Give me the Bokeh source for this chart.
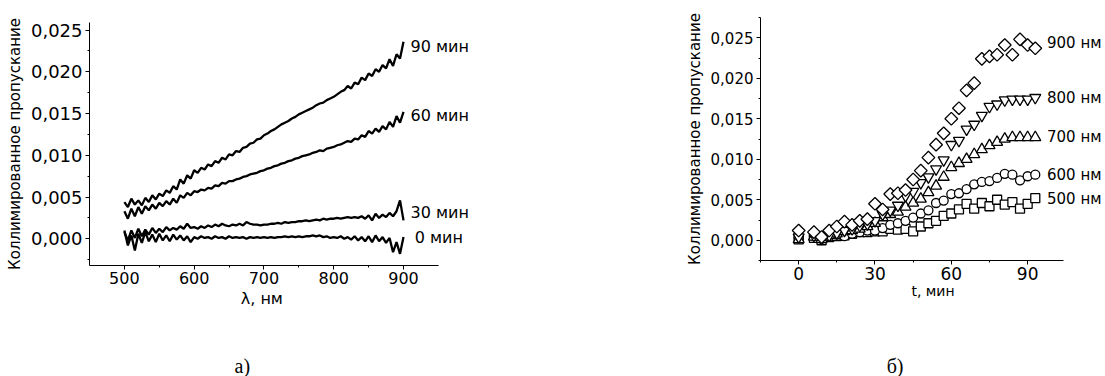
from bokeh.plotting import figure
from bokeh.layouts import row, column
from bokeh.models import FixedTicker, Range1d
from bokeh.core.properties import value
from bokeh.embed import file_html
from bokeh.resources import INLINE
import math

# ---------------- panel (a): spectra ----------------
wavelength = list(range(500, 905, 5))

spec_90 = [0.0044, 0.0038, 0.0048, 0.0041, 0.0046, 0.0040, 0.0049, 0.0044, 0.0052, 0.0047,
           0.0054, 0.0051, 0.0058, 0.0055, 0.0063, 0.0059, 0.0071, 0.0066, 0.0076, 0.0072,
           0.0082, 0.0079, 0.0085, 0.0083, 0.0089, 0.0087, 0.0093, 0.0091, 0.0097, 0.0095,
           0.0101, 0.0100, 0.0105, 0.0104, 0.0109, 0.0110, 0.0114, 0.0115, 0.0119, 0.0120,
           0.0124, 0.0126, 0.0129, 0.0131, 0.0134, 0.0137, 0.0139, 0.0141, 0.0144, 0.0146,
           0.0149, 0.0151, 0.0153, 0.0155, 0.0157, 0.0160, 0.0162, 0.0163, 0.0166, 0.0168,
           0.0170, 0.0173, 0.0176, 0.0178, 0.0183, 0.0180, 0.0187, 0.0185, 0.0193, 0.0190,
           0.0198, 0.0195, 0.0203, 0.0200, 0.0208, 0.0204, 0.0215, 0.0207, 0.0221, 0.0216,
           0.0236]

spec_60 = [0.0033, 0.0024, 0.0036, 0.0027, 0.0038, 0.0030, 0.0039, 0.0034, 0.0041, 0.0036,
           0.0043, 0.0039, 0.0045, 0.0041, 0.0048, 0.0043, 0.0052, 0.0049, 0.0055, 0.0052,
           0.0057, 0.0056, 0.0059, 0.0058, 0.0061, 0.0060, 0.0064, 0.0063, 0.0067, 0.0066,
           0.0069, 0.0069, 0.0071, 0.0072, 0.0074, 0.0075, 0.0077, 0.0078, 0.0079, 0.0081,
           0.0082, 0.0084, 0.0085, 0.0087, 0.0088, 0.0090, 0.0091, 0.0093, 0.0094, 0.0096,
           0.0097, 0.0099, 0.0100, 0.0101, 0.0103, 0.0104, 0.0106, 0.0105, 0.0108, 0.0109,
           0.0110, 0.0112, 0.0113, 0.0115, 0.0117, 0.0116, 0.0120, 0.0119, 0.0124, 0.0122,
           0.0129, 0.0126, 0.0132, 0.0128, 0.0135, 0.0131, 0.0140, 0.0134, 0.0147, 0.0139,
           0.0152]

spec_30 = [0.0008, -0.0002, 0.0010, 0.0001, 0.0012, 0.0003, 0.0011, 0.0005, 0.0013, 0.0007,
           0.0012, 0.0008, 0.0014, 0.0010, 0.0013, 0.0011, 0.0015, 0.0012, 0.0018, 0.0013,
           0.0014, 0.0012, 0.0015, 0.0013, 0.0016, 0.0014, 0.0017, 0.0015, 0.0018, 0.0016,
           0.0015, 0.0017, 0.0016, 0.0018, 0.0016, 0.0020, 0.0018, 0.0017, 0.0017, 0.0016,
           0.0017, 0.0017, 0.0018, 0.0018, 0.0019, 0.0018, 0.0020, 0.0019, 0.0020, 0.0020,
           0.0021, 0.0021, 0.0022, 0.0021, 0.0022, 0.0023, 0.0022, 0.0024, 0.0023, 0.0024,
           0.0024, 0.0025, 0.0024, 0.0025, 0.0026, 0.0025, 0.0026, 0.0025, 0.0027, 0.0024,
           0.0028, 0.0022, 0.0030, 0.0025, 0.0029, 0.0026, 0.0031, 0.0027, 0.0033, 0.0046,
           0.0022]

spec_0 = [0.0010, -0.0008, 0.0004, -0.0014, 0.0006, -0.0005, 0.0008, -0.0003, 0.0005, -0.0004,
          0.0006, -0.0002, 0.0004, -0.0003, 0.0005, -0.0001, 0.0004, -0.0002, 0.0003, -0.0004,
          0.0002, 0.0000, 0.0003, 0.0001, 0.0002, 0.0000, 0.0003, 0.0001, 0.0002, 0.0000,
          0.0003, 0.0001, 0.0002, 0.0001, 0.0002, 0.0000, 0.0002, 0.0001, 0.0002, 0.0001,
          0.0002, 0.0001, 0.0002, 0.0001, 0.0002, 0.0002, 0.0003, 0.0002, 0.0003, 0.0002,
          0.0003, 0.0002, 0.0003, 0.0003, 0.0004, 0.0003, 0.0004, 0.0002, 0.0003, 0.0001,
          0.0002, 0.0001, 0.0003, 0.0000, 0.0002, -0.0001, 0.0003, -0.0002, 0.0002, -0.0003,
          0.0003, -0.0004, 0.0004, -0.0003, 0.0002, -0.0005, 0.0001, -0.0016, -0.0004, -0.0018,
          0.0002]

spec_series = [spec_90, spec_60, spec_30, spec_0]
spec_names = ["90 мин", "60 мин", "30 мин", "0 мин"]
spec_label_x = [910, 910, 910, 916]
spec_label_y = [0.0230, 0.0148, 0.0032, 0.0002]

lam_ticks = [500, 600, 700, 800, 900]
lam_minor = [550, 650, 750, 850]
ya_ticks = [0.0, 0.005, 0.01, 0.015, 0.02, 0.025]
ya_tick_labels = ["0,000", "0,005", "0,010", "0,015", "0,020", "0,025"]
ya_minor = [-0.0025, 0.0025, 0.0075, 0.0125, 0.0175, 0.0225]
xa_title = "λ, нм"
xa_title_x = 697          # centre of the axis title, in nm
caption_a_x = 669         # "а)" caption, in nm units of panel (a)

# ---------------- panel (b): kinetics ----------------
time_min = [0, 6, 9, 12, 15, 18, 21, 24, 27, 30, 33, 36, 39, 42, 45, 48,
            51, 54, 57, 60, 63, 66, 69, 72, 75, 78, 81, 84, 87, 90, 93]

t_900 = [0.0012, 0.0010, 0.0004, 0.0012, 0.0017, 0.0023, 0.0019, 0.0024, 0.0026, 0.0045, 0.0038,
         0.0057, 0.0058, 0.0062, 0.0075, 0.0086, 0.0102, 0.0118, 0.0132, 0.0150, 0.0163, 0.0185,
         0.0194, 0.0224, 0.0227, 0.0229, 0.0241, 0.0229, 0.0248, 0.0241, 0.0237]
t_800 = [0.0004, 0.0006, 0.0002, 0.0006, 0.0009, 0.0012, 0.0014, 0.0018, 0.0020, 0.0024, 0.0032,
         0.0037, 0.0043, 0.0055, 0.0060, 0.0071, 0.0078, 0.0088, 0.0099, 0.0118, 0.0123, 0.0137,
         0.0143, 0.0154, 0.0165, 0.0168, 0.0173, 0.0174, 0.0174, 0.0174, 0.0176]
t_700 = [0.0001, 0.0004, 0.0001, 0.0006, 0.0008, 0.0011, 0.0012, 0.0014, 0.0017, 0.0021, 0.0028,
         0.0032, 0.0035, 0.0041, 0.0046, 0.0051, 0.0059, 0.0067, 0.0078, 0.0090, 0.0095, 0.0100,
         0.0106, 0.0112, 0.0117, 0.0121, 0.0125, 0.0127, 0.0127, 0.0127, 0.0127]
t_600 = [0.0003, 0.0005, 0.0002, 0.0005, 0.0007, 0.0005, 0.0008, 0.0010, 0.0012, 0.0012, 0.0015,
         0.0019, 0.0021, 0.0024, 0.0028, 0.0033, 0.0037, 0.0046, 0.0049, 0.0057, 0.0058, 0.0063,
         0.0069, 0.0072, 0.0073, 0.0077, 0.0082, 0.0081, 0.0074, 0.0079, 0.0081]
t_500 = [0.0001, 0.0003, 0.0000, 0.0004, 0.0005, 0.0006, 0.0008, 0.0010, 0.0010, 0.0011, 0.0011,
         0.0014, 0.0013, 0.0014, 0.0011, 0.0017, 0.0021, 0.0024, 0.0030, 0.0033, 0.0038, 0.0045,
         0.0039, 0.0046, 0.0042, 0.0050, 0.0044, 0.0047, 0.0039, 0.0045, 0.0052]

kin_series = [t_500, t_600, t_700, t_800, t_900]
kin_names = ["500 нм", "600 нм", "700 нм", "800 нм", "900 нм"]
kin_markers = ["square", "circle", "triangle", "inverted_triangle", "square"]
kin_sizes = [9, 9, 11, 11, 9]
kin_angles = [0.0, 0.0, 0.0, 0.0, math.pi / 4]
kin_label_x = [97.6, 97.6, 97.6, 97.6, 97.6]
kin_label_y = [0.0051, 0.0081, 0.0127, 0.0176, 0.0243]

t_ticks = [0, 30, 60, 90]
t_minor = [-15, 15, 45, 75]
yb_ticks = [0.0, 0.005, 0.01, 0.015, 0.02, 0.025]
yb_tick_labels = ["0,000", "0,005", "0,010", "0,015", "0,020", "0,025"]
yb_minor = [-0.0025, 0.0025, 0.0075, 0.0125, 0.0175, 0.0225, 0.0275]
xb_title = "t, мин"
caption_b_x = 37.9        # "б)" caption, in minutes units of panel (b)

captions = ["а)", "б)"]

FONT = "DejaVu Sans"
SERIF = "Liberation Serif"


def style(p, xfs, yfs, ylfs):
    p.xgrid.grid_line_color = None
    p.ygrid.grid_line_color = None
    p.outline_line_color = None
    for ax in (p.xaxis[0], p.yaxis[0]):
        ax.axis_line_color = "black"
        ax.axis_line_width = 1
        ax.major_tick_line_color = "black"
        ax.minor_tick_line_color = "black"
        ax.major_tick_in = 0
        ax.major_tick_out = 4
        ax.minor_tick_in = 0
        ax.minor_tick_out = 2
        ax.major_label_text_color = "black"
        ax.major_label_text_font = FONT
        ax.axis_label_text_font = FONT
        ax.axis_label_text_font_style = "normal"
        ax.axis_label_text_color = "black"
    p.xaxis.major_label_text_font_size = xfs
    p.yaxis.major_label_text_font_size = yfs
    p.yaxis.axis_label_text_font_size = ylfs
    p.xaxis.major_label_standoff = 2
    p.yaxis.major_label_standoff = 3
    p.xaxis.axis_label_standoff = 0
    p.yaxis.axis_label_standoff = 4


def strip(width, height, x_range, left, right):
    c = figure(width=width, height=height, x_range=x_range, y_range=Range1d(0, height),
               x_axis_type=None, y_axis_type=None,
               output_backend="svg", toolbar_location=None,
               min_border_left=left, min_border_right=right, min_border_top=0, min_border_bottom=0)
    c.xgrid.grid_line_color = None
    c.ygrid.grid_line_color = None
    c.outline_line_color = None
    return c


H = 376
L_TOP = 289
R_TOP = 330

# ---- left figure (frame extended to the right so the curve labels fit)
p1 = figure(width=552, height=L_TOP, x_range=Range1d(450, 1039), y_range=Range1d(-0.0032, 0.0259),
            output_backend="svg", toolbar_location=None,
            min_border_left=89, min_border_right=52, min_border_top=22, min_border_bottom=L_TOP - 265,
            y_axis_label="Коллимированное пропускание")
style(p1, "16px", "18px", "15px")
p1.xaxis.ticker = FixedTicker(ticks=lam_ticks, minor_ticks=lam_minor)
p1.xaxis.bounds = (450, 950)
p1.yaxis.ticker = FixedTicker(ticks=ya_ticks, minor_ticks=ya_minor)
p1.yaxis.major_label_overrides = dict(zip(ya_ticks, ya_tick_labels))

for ys in spec_series:
    p1.line(wavelength, ys, line_color="black", line_width=2.3)
p1.text(spec_label_x, spec_label_y, text=spec_names, text_font=value(FONT), text_font_size="16px",
        text_baseline="middle", text_align="left", text_color="black")

cap1 = strip(552, H - L_TOP, p1.x_range, 89, 52)
cap1.text([xa_title_x], [H - L_TOP - 9], text=[xa_title], text_font=value(FONT), text_font_size="16px",
          text_baseline="alphabetic", text_align="center", text_color="black")
cap1.text([caption_a_x], [11], text=[captions[0]], text_font=value(SERIF), text_font_size="20px",
          text_baseline="middle", text_align="center", text_color="black")

# ---- right figure (frame extended to the right edge)
p2 = figure(width=553, height=R_TOP, x_range=Range1d(-15, 120.6), y_range=Range1d(-0.0025, 0.0275),
            output_backend="svg", toolbar_location=None,
            min_border_left=208, min_border_right=0, min_border_top=17, min_border_bottom=R_TOP - 260,
            x_axis_label=xb_title, y_axis_label="Коллимированное пропускание")
style(p2, "17px", "15px", "15px")
p2.xaxis.axis_label_text_font_size = "14px"
p2.xaxis.ticker = FixedTicker(ticks=t_ticks, minor_ticks=t_minor)
p2.xaxis.bounds = (-15, 104)
p2.yaxis.ticker = FixedTicker(ticks=yb_ticks, minor_ticks=yb_minor)
p2.yaxis.major_label_overrides = dict(zip(yb_ticks, yb_tick_labels))

for ys, mk, sz, ang in zip(kin_series, kin_markers, kin_sizes, kin_angles):
    p2.scatter(time_min, ys, marker=mk, size=sz, angle=ang, line_color="black",
               fill_color="white", line_width=1.3)
p2.text(kin_label_x, kin_label_y, text=kin_names, text_font=value(FONT), text_font_size="15px",
        text_baseline="middle", text_align="left", text_color="black")

cap2 = strip(553, H - R_TOP, p2.x_range, 208, 0)
cap2.text([caption_b_x], [11], text=[captions[1]], text_font=value(SERIF), text_font_size="20px",
          text_baseline="middle", text_align="center", text_color="black")

layout = row(column(p1, cap1), column(p2, cap2))
open("out.html", "w").write(file_html(layout, INLINE))
